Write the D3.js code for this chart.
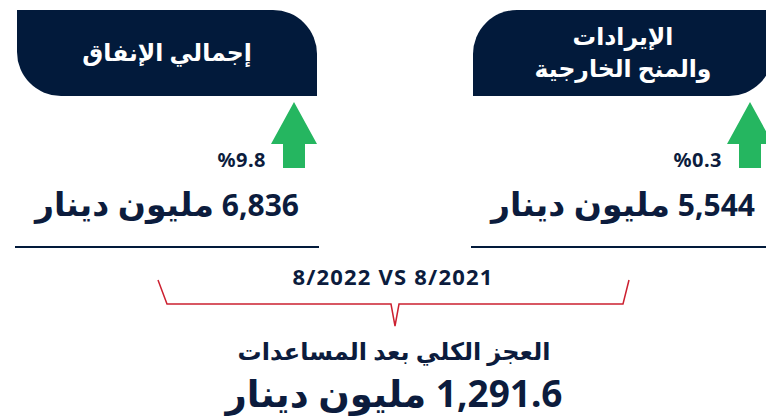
<!DOCTYPE html>
<html>
<head>
<meta charset="utf-8">
<script src="https://cdn.jsdelivr.net/npm/d3@7"></script>
<style>
  body { margin: 0; background: #fff; }
  svg { display: block; font-family: "Noto Sans", "DejaVu Sans", sans-serif; }
</style>
</head>
<body>
<div id="chart"></div>
<script>
"use strict";

// cards, right to left as they are read
const cardKeys = ["revenue", "spending"];
const cardTitles = [["الإيرادات", "والمنح الخارجية"], ["إجمالي الإنفاق"]];
const cardValues = [5544, 6836];
const cardChanges = [0.3, 9.8];
const unitLabel = "مليون دينار";

const periods = ["8/2022", "8/2021"];
const deficitTitle = "العجز الكلي بعد المساعدات";
const deficitValue = 1291.6;

const width = 766;
const height = 418;
const navy = "#021a3b";
const ink = "#0c1c3d";
const green = "#25b660";
const red = "#cc2030";

const svg = d3
  .select("#chart")
  .append("svg")
  .attr("width", width)
  .attr("height", height);

///////////////////////////////////
// card positions
///////////////////////////////////

const x = d3
  .scaleBand()
  .domain(cardKeys)
  .range([773, 17])
  .paddingInner(156 / 456)
  .paddingOuter(0);
const bw = x.bandwidth();
const cardTop = 10;
const cardH = 86;
const r = 44;

// top-outer corner and bottom-inner corner rounded
const cardPath = (x0, mirrored) => {
  const x1 = x0 + bw;
  const y0 = cardTop;
  const y1 = cardTop + cardH;
  const p = d3.path();
  if (!mirrored) {
    // left card: top-right and bottom-left rounded
    p.moveTo(x0, y0);
    p.lineTo(x1 - r, y0);
    p.arcTo(x1, y0, x1, y0 + r, r);
    p.lineTo(x1, y1);
    p.lineTo(x0 + r, y1);
    p.arcTo(x0, y1, x0, y1 - r, r);
  } else {
    // right card: top-left and bottom-right rounded
    p.moveTo(x0 + r, y0);
    p.lineTo(x1, y0);
    p.lineTo(x1, y1 - r);
    p.arcTo(x1, y1, x1 - r, y1, r);
    p.lineTo(x0, y1);
    p.lineTo(x0, y0 + r);
    p.arcTo(x0, y0, x0 + r, y0, r);
  }
  p.closePath();
  return p.toString();
};

const cards = svg
  .selectAll("g.card")
  .data(cardKeys)
  .enter()
  .append("g")
  .attr("class", "card");

cards
  .append("path")
  .attr("d", (d, i) => cardPath(x(d), i === 0))
  .attr("fill", navy);

cards.each(function (d, i) {
  const lines = cardTitles[i];
  const cx = x(d) + bw / 2;
  const lh = 32;
  const y0 = cardTop + cardH / 2 + 8 - ((lines.length - 1) * lh) / 2;
  d3.select(this)
    .selectAll("text.title")
    .data(lines)
    .enter()
    .append("text")
    .attr("class", "title")
    .attr("x", cx)
    .attr("y", (l, j) => y0 + j * lh)
    .attr("text-anchor", "middle")
    .attr("direction", "rtl")
    .attr("fill", "#fff")
    .attr("font-size", 23.5)
    .attr("font-weight", "bold")
    .text((l) => l);
});

///////////////////////////////////
// arrows and changes
///////////////////////////////////

const arrow = d3.line();
cards
  .append("path")
  .attr("d", (d) => {
    const ax = x(d) + bw - 23;
    return (
      arrow([
        [ax, 102],
        [ax + 23, 144],
        [ax + 11, 144],
        [ax + 11, 168],
        [ax - 11, 168],
        [ax - 11, 144],
        [ax - 23, 144],
      ]) + "Z"
    );
  })
  .attr("fill", green);

cards
  .append("text")
  .attr("x", (d) => x(d) + bw - 51)
  .attr("y", 167)
  .attr("text-anchor", "end")
  .attr("fill", ink)
  .attr("font-size", 20)
  .attr("letter-spacing", 0.5)
  .attr("font-weight", "bold")
  .text((d, i) => "%" + cardChanges[i]);

const valueText = cards
  .append("text")
  .attr("x", (d) => x(d) + bw / 2)
  .attr("y", 216)
  .attr("text-anchor", "middle")
  .attr("direction", "rtl")
  .attr("fill", ink)
  .attr("font-weight", "bold");
valueText
  .append("tspan")
  .attr("font-size", 30)
  .text((d, i) => d3.format(",")(cardValues[i]) + " ");
valueText.append("tspan").attr("font-size", 33).text(unitLabel);

///////////////////////////////////
// underlines
///////////////////////////////////

cards
  .append("line")
  .attr("x1", (d) => x(d) - 2)
  .attr("x2", (d) => x(d) + bw + 2)
  .attr("y1", 247)
  .attr("y2", 247)
  .attr("stroke", navy)
  .attr("stroke-width", 2);

///////////////////////////////////
// bracket and deficit
///////////////////////////////////

const cx = width / 2 + 11;

svg
  .append("text")
  .attr("x", cx - 1)
  .attr("y", 285)
  .attr("text-anchor", "middle")
  .attr("fill", ink)
  .attr("font-size", 22)
  .attr("letter-spacing", 1.2)
  .attr("font-weight", "bold")
  .text(periods.join(" VS "));

svg
  .append("path")
  .attr(
    "d",
    d3.line()([
      [158, 280],
      [167, 304],
      [391, 304],
      [395, 326],
      [399, 304],
      [623, 304],
      [629, 280],
    ])
  )
  .attr("fill", "none")
  .attr("stroke", red)
  .attr("stroke-width", 1.5);

svg
  .append("text")
  .attr("x", cx)
  .attr("y", 360)
  .attr("text-anchor", "middle")
  .attr("direction", "rtl")
  .attr("fill", ink)
  .attr("font-size", 24)
  .attr("font-weight", "bold")
  .text(deficitTitle);

svg
  .append("text")
  .attr("x", cx)
  .attr("y", 407)
  .attr("text-anchor", "middle")
  .attr("direction", "rtl")
  .attr("fill", ink)
  .attr("font-size", 37)
  .attr("font-weight", "bold")
  .text(d3.format(",.1f")(deficitValue) + " " + unitLabel);
</script>
</body>
</html>
